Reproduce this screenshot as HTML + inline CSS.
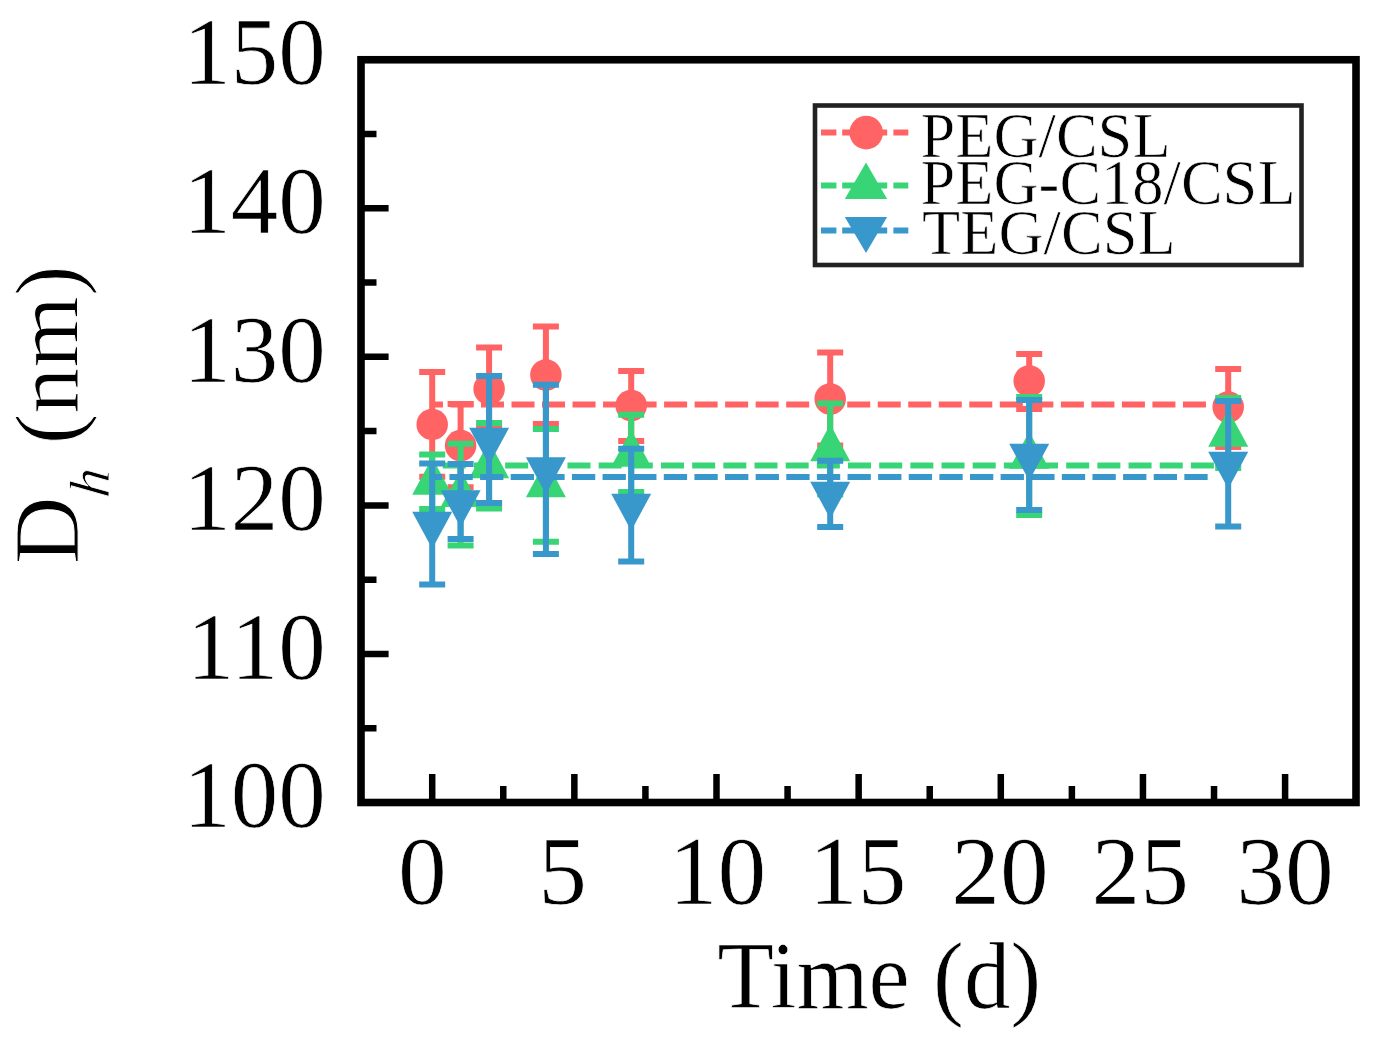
<!DOCTYPE html><html><head><meta charset="utf-8"><style>html,body{margin:0;padding:0;background:#fff;}svg{display:block}text{font-family:"Liberation Serif",serif;fill:#000;stroke:#fff;stroke-width:0.7px}</style></head><body>
<svg width="1378" height="1053" viewBox="0 0 1378 1053">
<rect width="1378" height="1053" fill="#fff"/>
<line x1="432.2" y1="404.5" x2="1228" y2="404.5" stroke="#FF6363" stroke-width="6" stroke-dasharray="23 7.52" stroke-dashoffset="12.26"/>
<path d="M432.2 372.0V476.8M419.2 372.0H445.2M419.2 476.8H445.2" stroke="#FF6363" stroke-width="6" fill="none"/>
<path d="M460.6 404.0V487.2M447.6 404.0H473.6M447.6 487.2H473.6" stroke="#FF6363" stroke-width="6" fill="none"/>
<path d="M489.1 347.5V428.0M476.1 347.5H502.1M476.1 428.0H502.1" stroke="#FF6363" stroke-width="6" fill="none"/>
<path d="M545.9 326.4V424.0M532.9 326.4H558.9M532.9 424.0H558.9" stroke="#FF6363" stroke-width="6" fill="none"/>
<path d="M631.2 371.0V441.0M618.2 371.0H644.2M618.2 441.0H644.2" stroke="#FF6363" stroke-width="6" fill="none"/>
<path d="M830.2 352.5V445.5M817.2 352.5H843.2M817.2 445.5H843.2" stroke="#FF6363" stroke-width="6" fill="none"/>
<path d="M1029.2 354.0V409.0M1016.2 354.0H1042.2M1016.2 409.0H1042.2" stroke="#FF6363" stroke-width="6" fill="none"/>
<path d="M1228.2 369.0V447.0M1215.2 369.0H1241.2M1215.2 447.0H1241.2" stroke="#FF6363" stroke-width="6" fill="none"/>
<circle cx="432.2" cy="424.4" r="15.75" fill="#FF6363"/>
<circle cx="460.6" cy="445.6" r="15.75" fill="#FF6363"/>
<circle cx="489.1" cy="389" r="15.75" fill="#FF6363"/>
<circle cx="545.9" cy="375" r="15.75" fill="#FF6363"/>
<circle cx="631.2" cy="405.5" r="15.75" fill="#FF6363"/>
<circle cx="830.2" cy="399" r="15.75" fill="#FF6363"/>
<circle cx="1029.2" cy="381" r="15.75" fill="#FF6363"/>
<circle cx="1228.2" cy="407" r="15.75" fill="#FF6363"/>
<line x1="432.2" y1="465.5" x2="1228" y2="465.5" stroke="#37D576" stroke-width="6" stroke-dasharray="23 8.17" stroke-dashoffset="20.56"/>
<path d="M432.2 454.5V509.0M419.2 454.5H445.2M419.2 509.0H445.2" stroke="#37D576" stroke-width="6" fill="none"/>
<path d="M460.6 443.7V545.6M447.6 443.7H473.6M447.6 545.6H473.6" stroke="#37D576" stroke-width="6" fill="none"/>
<path d="M489.1 423.0V508.5M476.1 423.0H502.1M476.1 508.5H502.1" stroke="#37D576" stroke-width="6" fill="none"/>
<path d="M545.9 429.0V541.8M532.9 429.0H558.9M532.9 541.8H558.9" stroke="#37D576" stroke-width="6" fill="none"/>
<path d="M631.2 414.8V492.0M618.2 414.8H644.2M618.2 492.0H644.2" stroke="#37D576" stroke-width="6" fill="none"/>
<path d="M830.2 403.4V494.6M817.2 403.4H843.2M817.2 494.6H843.2" stroke="#37D576" stroke-width="6" fill="none"/>
<path d="M1029.2 397.0V515.0M1016.2 397.0H1042.2M1016.2 515.0H1042.2" stroke="#37D576" stroke-width="6" fill="none"/>
<path d="M1228.2 398.0V468.0M1215.2 398.0H1241.2M1215.2 468.0H1241.2" stroke="#37D576" stroke-width="6" fill="none"/>
<path d="M432.2 457.8L452.2 494.8H412.2Z" fill="#37D576"/>
<path d="M460.6 469.9L480.6 506.9H440.6Z" fill="#37D576"/>
<path d="M489.1 441.3L509.1 478.3H469.1Z" fill="#37D576"/>
<path d="M545.9 460.3L565.9 497.3H525.9Z" fill="#37D576"/>
<path d="M631.2 429.8L651.2 466.8H611.2Z" fill="#37D576"/>
<path d="M830.2 424.3L850.2 461.3H810.2Z" fill="#37D576"/>
<path d="M1029.2 431.8L1049.2 468.8H1009.2Z" fill="#37D576"/>
<path d="M1228.2 409.8L1248.2 446.8H1208.2Z" fill="#37D576"/>
<line x1="432.2" y1="477" x2="1210" y2="477" stroke="#3897CB" stroke-width="6" stroke-dasharray="23.3 7.32" stroke-dashoffset="13.36"/>
<path d="M432.2 463.5V584.4M419.2 463.5H445.2M419.2 584.4H445.2" stroke="#3897CB" stroke-width="6" fill="none"/>
<path d="M460.6 464.0V539.0M447.6 464.0H473.6M447.6 539.0H473.6" stroke="#3897CB" stroke-width="6" fill="none"/>
<path d="M489.1 376.0V503.0M476.1 376.0H502.1M476.1 503.0H502.1" stroke="#3897CB" stroke-width="6" fill="none"/>
<path d="M545.9 384.8V554.0M532.9 384.8H558.9M532.9 554.0H558.9" stroke="#3897CB" stroke-width="6" fill="none"/>
<path d="M631.2 448.7V561.5M618.2 448.7H644.2M618.2 561.5H644.2" stroke="#3897CB" stroke-width="6" fill="none"/>
<path d="M830.2 460.7V527.1M817.2 460.7H843.2M817.2 527.1H843.2" stroke="#3897CB" stroke-width="6" fill="none"/>
<path d="M1029.2 400.0V510.0M1016.2 400.0H1042.2M1016.2 510.0H1042.2" stroke="#3897CB" stroke-width="6" fill="none"/>
<path d="M1228.2 401.0V526.5M1215.2 401.0H1241.2M1215.2 526.5H1241.2" stroke="#3897CB" stroke-width="6" fill="none"/>
<path d="M412.2 511.7H452.2L432.2 548.7Z" fill="#3897CB"/>
<path d="M440.6 490.2H480.6L460.6 527.2Z" fill="#3897CB"/>
<path d="M469.1 427.7H509.1L489.1 464.7Z" fill="#3897CB"/>
<path d="M525.9 457.2H565.9L545.9 494.2Z" fill="#3897CB"/>
<path d="M611.2 493.7H651.2L631.2 530.7Z" fill="#3897CB"/>
<path d="M810.2 481.7H850.2L830.2 518.7Z" fill="#3897CB"/>
<path d="M1009.2 443.7H1049.2L1029.2 480.7Z" fill="#3897CB"/>
<path d="M1208.2 451.7H1248.2L1228.2 488.7Z" fill="#3897CB"/>
<rect x="361" y="59.75" width="995" height="742.75" fill="none" stroke="#000" stroke-width="7.6"/>
<path d="M361 728.23h15.5 M361 653.95h27.6 M361 579.68h15.5 M361 505.40h27.6 M361 431.12h15.5 M361 356.85h27.6 M361 282.58h15.5 M361 208.30h27.6 M361 134.03h15.5 M432.20 802.5v-28.5 M503.27 802.5v-16.5 M574.35 802.5v-28.5 M645.42 802.5v-16.5 M716.50 802.5v-28.5 M787.58 802.5v-16.5 M858.65 802.5v-28.5 M929.72 802.5v-16.5 M1000.80 802.5v-28.5 M1071.88 802.5v-16.5 M1142.95 802.5v-28.5 M1214.03 802.5v-16.5 M1285.10 802.5v-28.5" stroke="#000" stroke-width="6.5" fill="none"/>
<text x="325.8" y="827.1" font-size="95" text-anchor="end">100</text>
<text x="325.8" y="678.6" font-size="95" text-anchor="end">110</text>
<text x="325.8" y="530.0" font-size="95" text-anchor="end">120</text>
<text x="325.8" y="381.5" font-size="95" text-anchor="end">130</text>
<text x="325.8" y="232.9" font-size="95" text-anchor="end">140</text>
<text x="325.8" y="84.3" font-size="95" text-anchor="end">150</text>
<text x="422.4" y="904.3" font-size="97.5" text-anchor="middle">0</text>
<text x="562.5" y="904.3" font-size="97.5" text-anchor="middle">5</text>
<text x="717.5" y="904.3" font-size="97.5" text-anchor="middle">10</text>
<text x="857.7" y="904.3" font-size="97.5" text-anchor="middle">15</text>
<text x="999.9" y="904.3" font-size="97.5" text-anchor="middle">20</text>
<text x="1140.2" y="904.3" font-size="97.5" text-anchor="middle">25</text>
<text x="1284.9" y="904.3" font-size="97.5" text-anchor="middle">30</text>
<text transform="translate(717.2 1007.5) scale(0.97 1)" font-size="95.7">Time (d)</text>
<text transform="translate(78.4 564.3) rotate(-90)" font-size="94" style="stroke-width:1.1px">D</text>
<text transform="translate(109 498.5) rotate(-90) skewX(-6)" font-size="57" font-style="italic" style="stroke-width:0.9px">h</text>
<text transform="translate(78.4 444.3) rotate(-90)" font-size="92" style="stroke-width:1px">(nm)</text>
<rect x="815" y="105.5" width="486.5" height="159.5" fill="#fff" stroke="#222" stroke-width="4.6"/>
<path d="M821 132.6H836.4M842.2 132.6H887.2M893.4 132.6H908.3" stroke="#FF6363" stroke-width="6" fill="none"/>
<circle cx="866.2" cy="132.6" r="16.8" fill="#FF6363"/>
<path d="M821 185.5H836.4M842.2 185.5H887.2M893.4 185.5H908.3" stroke="#37D576" stroke-width="6" fill="none"/>
<path d="M866 162.5L887.1 198.9H844.8Z" fill="#37D576"/>
<path d="M821 230.5H836.4M842.2 230.5H887.2M893.4 230.5H908.3" stroke="#3897CB" stroke-width="6" fill="none"/>
<path d="M844.8 216.9H887.1L866 252.9Z" fill="#3897CB"/>
<text x="920.5" y="156.5" font-size="62.5">PEG/CSL</text>
<text x="920.5" y="204.1" font-size="62.5">PEG-C18/CSL</text>
<text x="922.1" y="254.1" font-size="62.5">TEG/CSL</text>
</svg></body></html>
